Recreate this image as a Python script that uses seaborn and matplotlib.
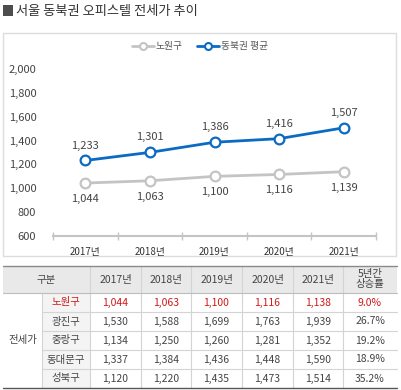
import seaborn as sns
import pandas as pd
import matplotlib.pyplot as plt
from matplotlib.patches import Rectangle
from matplotlib.lines import Line2D

years = ['2017년', '2018년', '2019년', '2020년', '2021년']
nowon = [1044, 1063, 1100, 1116, 1139]
dongbuk = [1233, 1301, 1386, 1416, 1507]
series_names = ['노원구', '동북권 평균']

districts = ['노원구', '광진구', '중랑구', '동대문구', '성북구']
tbl_values = [
    [1044, 1063, 1100, 1116, 1138],
    [1530, 1588, 1699, 1763, 1939],
    [1134, 1250, 1260, 1281, 1352],
    [1337, 1384, 1436, 1448, 1590],
    [1120, 1220, 1435, 1473, 1514],
]
rates = ['9.0%', '26.7%', '19.2%', '18.9%', '35.2%']

GRAY = '#c4c4c4'
BLUE = '#0b6bc4'
TXT = '#444444'

sns.set_style('white')
plt.rcParams['font.family'] = ['Noto Sans CJK KR', 'DejaVu Sans']

W, H = 402, 390
fig = plt.figure(figsize=(W / 100, H / 100), dpi=100)

# pixel overlay for frame, title and table
bg = fig.add_axes([0, 0, 1, 1], zorder=0)
bg.set_xlim(0, W)
bg.set_ylim(H, 0)
bg.axis('off')

bg.add_patch(Rectangle((3, 5), 10, 11, facecolor='#4d4d4d', edgecolor='none'))
bg.text(16, 11, '서울 동북권 오피스텔 전세가 추이', fontsize=9.5, color='#333333',
        va='center', ha='left')
bg.add_patch(Rectangle((3, 33), 393, 223, fill=False, edgecolor='#dcdcdc', lw=1))

# line chart
df = pd.DataFrame({
    'x': list(range(len(years))) * 2,
    'value': nowon + dongbuk,
    'series': [series_names[0]] * len(years) + [series_names[1]] * len(years),
})
ax = fig.add_axes([53 / W, (H - 236) / H, (376 - 53) / W, (236 - 69) / H], zorder=1)
ax.patch.set_alpha(0)
sns.lineplot(data=df, x='x', y='value', hue='series', palette=[GRAY, BLUE],
             marker='o', markersize=7, markerfacecolor='white', markeredgewidth=1.6,
             linewidth=2, legend=False, ax=ax)
for line, c in zip(ax.lines, [GRAY, BLUE]):
    line.set_markeredgecolor(c)

for i, v in enumerate(dongbuk):
    ax.annotate(f'{v:,}', (i, v), xytext=(0, 15), textcoords='offset pixels',
                ha='center', va='center', fontsize=8, color=TXT)
for i, v in enumerate(nowon):
    ax.annotate(f'{v:,}', (i, v), xytext=(0, -16), textcoords='offset pixels',
                ha='center', va='center', fontsize=8, color=TXT)

ax.set_xlim(-0.5, len(years) - 0.5)
ax.set_ylim(600, 2000)
ax.set_yticks(range(600, 2001, 200))
ax.set_yticklabels([f'{t:,}' for t in range(600, 2001, 200)])
ax.set_xticks(range(len(years)))
ax.set_xticklabels(years)
ax.set_xticks([i - 0.5 for i in range(len(years) + 1)], minor=True)
ax.tick_params(axis='x', which='major', bottom=True, length=0, pad=8, labelsize=7,
               labelcolor='#333333')
ax.tick_params(axis='x', which='minor', bottom=True, length=6, direction='inout',
               color=GRAY, width=1)
ax.tick_params(axis='y', length=0, pad=12, labelsize=8, labelcolor=TXT)
ax.set_xlabel('')
ax.set_ylabel('')
for s in ['top', 'right', 'left']:
    ax.spines[s].set_visible(False)
ax.spines['bottom'].set_color(GRAY)
ax.spines['bottom'].set_linewidth(1.5)

handles = [Line2D([], [], color=c, lw=2, marker='o', markersize=5,
                  markerfacecolor='white', markeredgecolor=c, markeredgewidth=1.5)
           for c in [GRAY, BLUE]]
fig.legend(handles, series_names, loc='center', bbox_to_anchor=(200 / W, (H - 46) / H),
           ncol=2, frameon=False, fontsize=7, handlelength=2.2, handletextpad=0.2,
           columnspacing=1.5, labelcolor='#555555')

# table
cols = [3, 42, 90, 141, 191, 242, 293, 343, 397]
rows = [266, 293, 312, 331, 350, 369, 388]
bg.add_patch(Rectangle((cols[0], rows[0]), cols[-1] - cols[0], rows[1] - rows[0],
                       facecolor='#e9e9e9', edgecolor='none'))
bg.add_patch(Rectangle((cols[1], rows[1]), cols[2] - cols[1], rows[-1] - rows[1],
                       facecolor='#f4f4f4', edgecolor='none'))
LINE = '#d4d4d4'
for x in cols[2:-1]:
    bg.plot([x, x], [rows[0], rows[-1]], color=LINE, lw=0.8)
bg.plot([cols[1], cols[1]], [rows[1], rows[-1]], color=LINE, lw=0.8)
for y in rows[2:-1]:
    bg.plot([cols[1], cols[-1]], [y, y], color=LINE, lw=0.8)
bg.plot([cols[0], cols[-1]], [rows[1], rows[1]], color='#bdbdbd', lw=0.8)
bg.plot([cols[0], cols[-1]], [rows[0], rows[0]], color='#8a8a8a', lw=1)
bg.plot([cols[0], cols[-1]], [rows[-1], rows[-1]], color='#555555', lw=1)

def cx(i):
    return (cols[i] + cols[i + 1]) / 2

def cy(j):
    return (rows[j] + rows[j + 1]) / 2

fs = 7.5
bg.text((cols[0] + cols[2]) / 2, cy(0), '구분', ha='center', va='center', fontsize=fs, color=TXT)
for k, yl in enumerate(years):
    bg.text(cx(k + 2), cy(0), yl, ha='center', va='center', fontsize=fs, color=TXT)
bg.text(cx(7), cy(0), '5년간\n상승률', ha='center', va='center', fontsize=fs,
        color=TXT, linespacing=1.0)
bg.text(cx(0), (rows[1] + rows[-1]) / 2, '전세가', ha='center', va='center',
        fontsize=fs, color=TXT)
for r, name in enumerate(districts):
    c = '#d01818' if r == 0 else TXT
    bg.text(cx(1), cy(r + 1), name, ha='center', va='center', fontsize=fs, color=c)
    for k, v in enumerate(tbl_values[r]):
        bg.text(cx(k + 2), cy(r + 1), f'{v:,}', ha='center', va='center', fontsize=fs, color=c)
    bg.text(cx(7), cy(r + 1), rates[r], ha='center', va='center', fontsize=fs, color=c)

fig.savefig('out.png', dpi=100)
